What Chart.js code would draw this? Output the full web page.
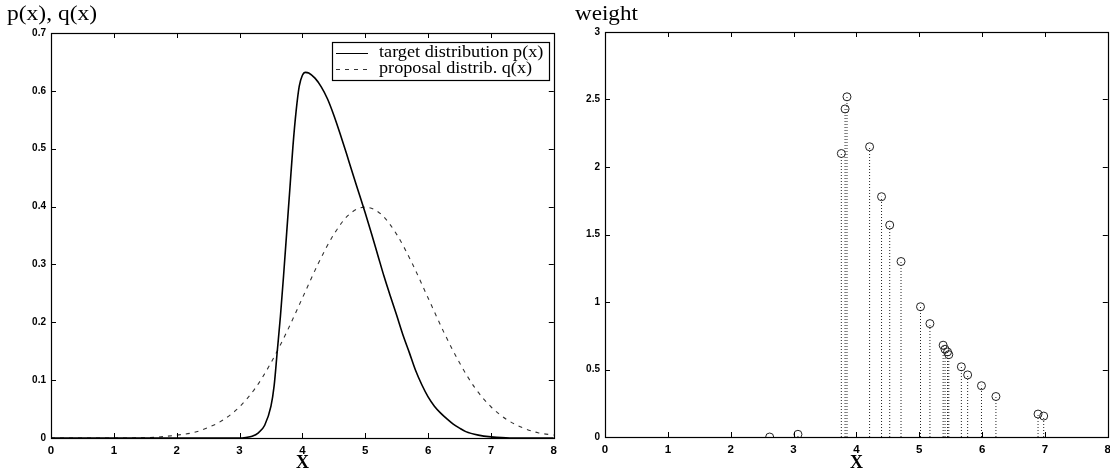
<!DOCTYPE html>
<html><head><meta charset="utf-8">
<script src="https://cdn.jsdelivr.net/npm/chart.js@4/dist/chart.umd.min.js"></script>
<style>
html,body{margin:0;padding:0;background:#fff;}
#w{position:relative;width:1110px;height:472px;overflow:hidden;}
#c1{position:absolute;left:0;top:0;}
#c2{position:absolute;left:567px;top:0;}
</style></head><body>
<div id="w"><canvas id="c1" width="563" height="472"></canvas><canvas id="c2" width="550" height="472"></canvas></div>
<script>
// ---- data ----
const pX = [0, 1, 2, 3, 3.1, 3.2, 3.3, 3.4, 3.5, 3.55, 3.6, 3.65, 3.7, 3.75, 3.8, 3.85, 3.9, 3.95, 4.0, 4.05, 4.1, 4.2, 4.3, 4.4, 4.5, 4.6, 4.7, 4.8, 4.9, 5.0, 5.1, 5.2, 5.3, 5.4, 5.5, 5.6, 5.7, 5.8, 5.9, 6.0, 6.1, 6.2, 6.3, 6.4, 6.5, 6.6, 6.8, 7.0, 7.3, 8];
const pY = [0, 0, 0, 0, 0.001, 0.003, 0.009, 0.022, 0.055, 0.09, 0.15, 0.21, 0.28, 0.355, 0.43, 0.505, 0.565, 0.608, 0.627, 0.632, 0.631, 0.622, 0.607, 0.586, 0.558, 0.526, 0.492, 0.457, 0.423, 0.389, 0.353, 0.316, 0.279, 0.245, 0.212, 0.178, 0.148, 0.117, 0.092, 0.071, 0.055, 0.043, 0.033, 0.024, 0.017, 0.011, 0.005, 0.002, 0, 0];
const qX = [0, 0.5, 1, 1.5, 1.75, 2, 2.25, 2.5, 2.75, 3, 3.25, 3.5, 3.75, 4, 4.25, 4.5, 4.75, 5, 5.25, 5.5, 5.75, 6, 6.25, 6.5, 6.75, 7, 7.25, 7.5, 7.75, 8];
const qY = [0, 0, 0, 0.0005, 0.002, 0.005, 0.009, 0.018, 0.032, 0.054, 0.086, 0.13, 0.183, 0.242, 0.301, 0.352, 0.387, 0.399, 0.387, 0.352, 0.301, 0.242, 0.183, 0.13, 0.086, 0.054, 0.032, 0.018, 0.009, 0.005];
const seriesNames = ['target distribution p(x)', 'proposal distrib. q(x)'];
const sampleX = [2.62, 3.07, 3.76, 3.82, 3.85, 4.21, 4.40, 4.53, 4.71, 5.02, 5.17, 5.38, 5.41, 5.45, 5.47, 5.67, 5.77, 5.99, 6.22, 6.89, 6.98];
const weightY = [0.0, 0.02, 2.10, 2.43, 2.52, 2.15, 1.78, 1.57, 1.30, 0.965, 0.84, 0.68, 0.65, 0.63, 0.61, 0.52, 0.46, 0.38, 0.30, 0.17, 0.155];
const xTicks = [0, 1, 2, 3, 4, 5, 6, 7, 8];
const leftYTicks = [0, 0.1, 0.2, 0.3, 0.4, 0.5, 0.6, 0.7];
const rightYTicks = [0, 0.5, 1, 1.5, 2, 2.5, 3];
const leftTitle = 'p(x), q(x)';
const rightTitle = 'weight';
const xTitle = 'X';

const XFONT = {family: 'Liberation Sans, Arial, sans-serif', size: 11.5, weight: 'bold'};
const YFONT = {family: 'Liberation Sans, Arial, sans-serif', size: 10, weight: 'bold'};
const SERIF = 'Liberation Serif, Times New Roman, serif';

const framePlugin = {
  id: 'frame',
  afterDatasetsDraw(chart) {
    const {ctx, chartArea: a, scales} = chart;
    ctx.save();
    ctx.strokeStyle = '#000';
    ctx.lineWidth = 1.2;
    ctx.strokeRect(Math.round(a.left) + 0.5, Math.round(a.top) + 0.5, Math.round(a.right - a.left), Math.round(a.bottom - a.top));
    ctx.lineWidth = 1;
    const L = 5;
    scales.x.ticks.forEach(t => {
      const px = Math.round(scales.x.getPixelForValue(t.value)) + 0.5;
      ctx.beginPath(); ctx.moveTo(px, a.bottom); ctx.lineTo(px, a.bottom - L);
      ctx.moveTo(px, a.top); ctx.lineTo(px, a.top + L); ctx.stroke();
    });
    scales.y.ticks.forEach(t => {
      const py = Math.round(scales.y.getPixelForValue(t.value)) + 0.5;
      ctx.beginPath(); ctx.moveTo(a.left, py); ctx.lineTo(a.left + L, py);
      ctx.moveTo(a.right, py); ctx.lineTo(a.right - L, py); ctx.stroke();
    });
    ctx.restore();
  }
};

const topTitlePlugin = {
  id: 'topTitle',
  afterDraw(chart, args, opts) {
    const ctx = chart.ctx;
    ctx.save();
    ctx.fillStyle = '#000';
    ctx.font = opts.size + 'px ' + SERIF;
    ctx.textBaseline = 'middle';
    ctx.textAlign = 'left';
    ctx.translate(opts.x, opts.y);
    ctx.scale(opts.sx || 1, 1);
    ctx.fillText(opts.text, 0, 0);
    ctx.restore();
  }
};

const legendPlugin = {
  id: 'boxLegend',
  afterDraw(chart, args, opts) {
    if (!opts.show) return;
    const ctx = chart.ctx;
    const ds = chart.data.datasets;
    ctx.save();
    ctx.fillStyle = '#fff';
    ctx.fillRect(opts.x, opts.y, opts.w, opts.h);
    ctx.strokeStyle = '#000';
    ctx.lineWidth = 1.2;
    ctx.strokeRect(opts.x + 0.5, opts.y + 0.5, opts.w, opts.h);
    ctx.font = opts.size + 'px ' + SERIF;
    ctx.textBaseline = 'middle';
    ctx.fillStyle = '#000';
    ds.forEach((d, i) => {
      const yy = opts.y + opts.rowTop + i * opts.rowGap;
      ctx.save();
      ctx.strokeStyle = d.borderColor;
      ctx.lineWidth = 1;
      ctx.setLineDash(d.borderDash || []);
      ctx.beginPath(); ctx.moveTo(opts.x + 4, yy + 0.5); ctx.lineTo(opts.x + 36, yy + 0.5); ctx.stroke();
      ctx.restore();
      ctx.save();
      ctx.translate(opts.x + 47, yy);
      ctx.scale(opts.sx || 1, 1);
      ctx.fillText(d.label, 0, 0);
      ctx.restore();
    });
    ctx.restore();
  }
};

function pts(xs, ys) { return xs.map((x, i) => ({x: x, y: ys[i]})); }

function makeScales(yTicks, yMax, yWidth, xHeight) {
  return {
    x: {
      type: 'linear', min: 0, max: 8,
      afterBuildTicks: s => { s.ticks = xTicks.map(v => ({value: v})); },
      afterFit: s => { s.height = xHeight; },
      grid: {display: false, drawTicks: false},
      border: {display: false},
      ticks: {color: '#000', font: XFONT, padding: 6, maxRotation: 0, autoSkip: false},
      title: {display: true, text: xTitle, color: '#000', font: {family: SERIF, size: 18, weight: 'bold', lineHeight: 1.0}, padding: {top: 0, bottom: 0}}
    },
    y: {
      type: 'linear', min: 0, max: yMax,
      afterBuildTicks: s => { s.ticks = yTicks.map(v => ({value: v})); },
      afterFit: s => { s.width = yWidth; },
      grid: {display: false, drawTicks: false},
      border: {display: false},
      ticks: {color: '#000', font: YFONT, padding: 5, autoSkip: false,
              callback: v => String(Math.round(v * 10) / 10)}
    }
  };
}

new Chart(document.getElementById('c1'), {
  type: 'line',
  data: {
    datasets: [
      {label: seriesNames[0], data: pts(pX, pY), borderColor: '#000', borderWidth: 1.6, pointRadius: 0, cubicInterpolationMode: 'monotone', fill: false},
      {label: seriesNames[1], data: pts(qX, qY), borderColor: '#333', borderWidth: 1.1, borderDash: [4, 5], pointRadius: 0, cubicInterpolationMode: 'monotone', fill: false}
    ]
  },
  options: {
    responsive: false, animation: false,
    layout: {padding: {left: 0, right: 0, top: 33, bottom: 0}},
    scales: makeScales(leftYTicks, 0.7, 51, 34),
    plugins: {
      legend: {display: false}, tooltip: {enabled: false},
      topTitle: {text: leftTitle, x: 7, y: 14, size: 21, sx: 1.12},
      boxLegend: {show: true, x: 332, y: 42, w: 217, h: 38, rowTop: 11, rowGap: 16, size: 17, sx: 1.07}
    }
  },
  plugins: [framePlugin, topTitlePlugin, legendPlugin]
});

const stemData = [];
sampleX.forEach((x, i) => {
  stemData.push({x: x, y: 0});
  stemData.push({x: x, y: weightY[i]});
  stemData.push({x: x, y: null});
});

new Chart(document.getElementById('c2'), {
  type: 'line',
  data: {
    datasets: [
      {label: 'stems', data: stemData, borderColor: '#222', borderWidth: 1, borderDash: [1, 2], pointRadius: 0, spanGaps: false, tension: 0, fill: false},
      {label: 'weight', type: 'scatter', data: pts(sampleX, weightY), showLine: false, pointStyle: 'circle', pointRadius: 4, borderColor: '#222', borderWidth: 1, backgroundColor: 'rgba(0,0,0,0)'}
    ]
  },
  options: {
    responsive: false, animation: false,
    layout: {padding: {left: 0, right: 0, top: 32, bottom: 0}},
    scales: makeScales(rightYTicks, 3, 38, 35),
    plugins: {
      legend: {display: false}, tooltip: {enabled: false},
      topTitle: {text: rightTitle, x: 8, y: 14, size: 22, sx: 1.05},
      boxLegend: {show: false}
    }
  },
  plugins: [framePlugin, topTitlePlugin, legendPlugin]
});
</script>
</body></html>
